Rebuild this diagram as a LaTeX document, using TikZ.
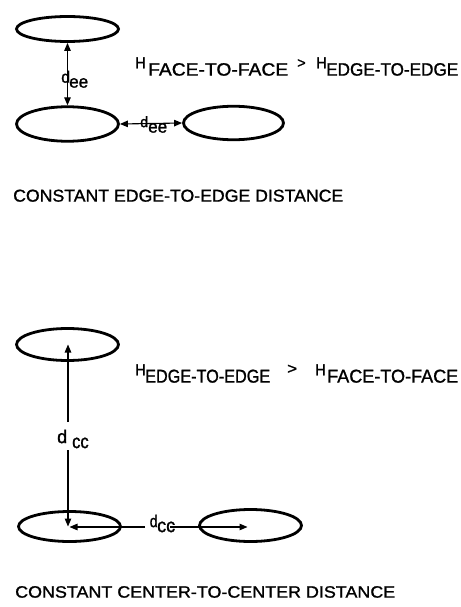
\documentclass[tikz,border=0pt]{standalone}
\usepackage{fontspec}
\setsansfont{Liberation Sans}[FakeBold=1.2]
\usetikzlibrary{shapes.geometric,arrows.meta}
\newcommand{\fitted}[3]{\resizebox{#1pt}{#2pt}{\sffamily #3}}
\begin{document}
\begin{tikzpicture}[x=1pt,y=-1pt,
  blob/.style={ellipse,draw,line width=2.8pt,inner sep=0pt},
  lbl/.style={inner sep=0pt,anchor=south west},
  dim/.style={line width=1.1pt},
  >={Triangle[length=8pt,width=6.5pt]}]
\useasboundingbox (0,0) rectangle (460,607);

% ---------- upper panel ----------
\node[blob,minimum width=102pt,minimum height=25pt] (E1) at (67.5,29) {};
\node[blob,minimum width=102pt,minimum height=34.5pt] (E2) at (67.5,124) {};
\node[blob,minimum width=100pt,minimum height=33.5pt] (E3) at (233.5,123) {};

\draw[dim,<->] (E1.south) -- (E2.north);
\draw[dim,<->] (E2.east) -- (E3.west);

\node[lbl] (d1) at (61,83) {\fitted{9}{12}{d}};
\node[lbl] (e1) at (69,88) {\fitted{19}{9.5}{ee}};
\node[lbl] (d2) at (140,127.5) {\fitted{8}{11}{d}};
\node[lbl] (e2) at (148,133) {\fitted{19}{9.5}{ee}};

\node[lbl] (H1) at (135,68.5) {\fitted{10.5}{11}{H}};
\node[lbl] (S1) at (148,76) {\fitted{140}{12.5}{FACE-TO-FACE}};
\node[lbl] (G1) at (297,68) {\fitted{8.5}{8.5}{>}};
\node[lbl] (H2) at (316,68.5) {\fitted{10.5}{11}{H}};
\node[lbl] (S2) at (326,76) {\fitted{132}{12.5}{EDGE-TO-EDGE}};

\node[lbl] (C1) at (13,202) {\fitted{330}{12}{CONSTANT EDGE-TO-EDGE DISTANCE}};

% ---------- lower panel ----------
\node[blob,minimum width=102pt,minimum height=32pt] (E4) at (67.5,344.5) {};
\node[blob,minimum width=102pt,minimum height=30pt] (E5) at (69.5,526.5) {};
\node[blob,minimum width=102pt,minimum height=32pt] (E6) at (250.5,525.5) {};

\coordinate (g1) at (68,422);
\coordinate (g2) at (68,450);
\coordinate (h1) at (145,527);
\coordinate (h2) at (170,527);
\draw[dim,->] (g1) -- (g1 |- E4.center);
\draw[dim,->] (g2) -- (g2 |- E5.center);
\draw[dim,->] (h1) -- (h1 -| E5.center);
\draw[dim,->,shorten >=3pt] (h2) -- (h2 -| E6.center);

\node[lbl] (d3) at (57,443.5) {\fitted{10}{13.5}{d}};
\node[lbl] (c3) at (72,448.5) {\fitted{16.5}{10.5}{cc}};
\node[lbl] (d4) at (149.5,527.5) {\fitted{8}{12.5}{d}};
\node[lbl] (c4) at (157,532.5) {\fitted{18}{10.5}{cc}};

\node[lbl] (H3) at (135,375.5) {\fitted{10.5}{11}{H}};
\node[lbl] (S3) at (145,383) {\fitted{125}{13}{EDGE-TO-EDGE}};
\node[lbl] (G2) at (287,374) {\fitted{10}{9}{>}};
\node[lbl] (H4) at (315,375.5) {\fitted{10.5}{11}{H}};
\node[lbl] (S4) at (327,383) {\fitted{131}{13}{FACE-TO-FACE}};

\node[lbl] (C2) at (15,598) {\fitted{380}{11.5}{CONSTANT CENTER-TO-CENTER DISTANCE}};
\end{tikzpicture}
\end{document}
